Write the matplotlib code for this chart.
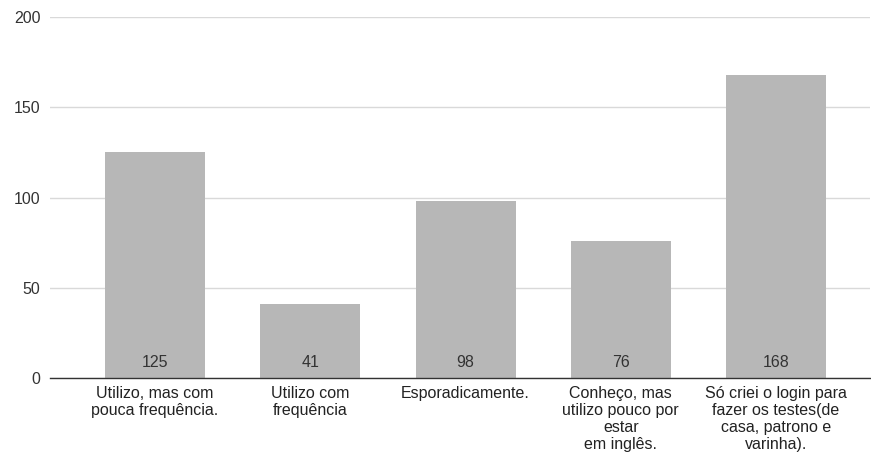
import matplotlib.pyplot as plt

plt.rcParams['font.family'] = ['Liberation Sans', 'DejaVu Sans']

categories = [
    "Utilizo, mas com\npouca frequência.",
    "Utilizo com\nfrequência",
    "Esporadicamente.",
    "Conheço, mas\nutilizo pouco por\nestar\nem inglês.",
    "Só criei o login para\nfazer os testes(de\ncasa, patrono e\nvarinha).",
]
counts = [125, 41, 98, 76, 168]
yticks = [0, 50, 100, 150, 200]

fig = plt.figure(figsize=(8.71, 4.63), dpi=100)
ax = fig.add_axes([50 / 871, 85 / 463, 820 / 871, 361 / 463])

x = range(len(counts))
ax.bar(x, counts, width=0.644, color='#b7b7b7', zorder=2)

for i, v in zip(x, counts):
    ax.annotate(str(v), xy=(i, 0), xytext=(0, 11.5), textcoords='offset points',
                ha='center', va='center', fontsize=11.5, color='#333333', zorder=3)

ax.set_xlim(-0.676, 4.605)
ax.set_ylim(0, 200)
ax.set_yticks(yticks)
ax.set_xticks(list(x))
ax.set_xticklabels(categories, fontsize=11.5, color='#222222', linespacing=1.17)
ax.tick_params(axis='x', length=0, pad=6)
ax.tick_params(axis='y', length=0, pad=7, labelsize=11.5, labelcolor='#333333')

ax.grid(axis='y', color='#d9d9d9', linewidth=1, zorder=0)
for side in ['top', 'right', 'left']:
    ax.spines[side].set_visible(False)
ax.spines['bottom'].set_color('#333333')
ax.spines['bottom'].set_linewidth(1)
ax.spines['bottom'].set_zorder(4)

fig.savefig('out.png', dpi=100)
